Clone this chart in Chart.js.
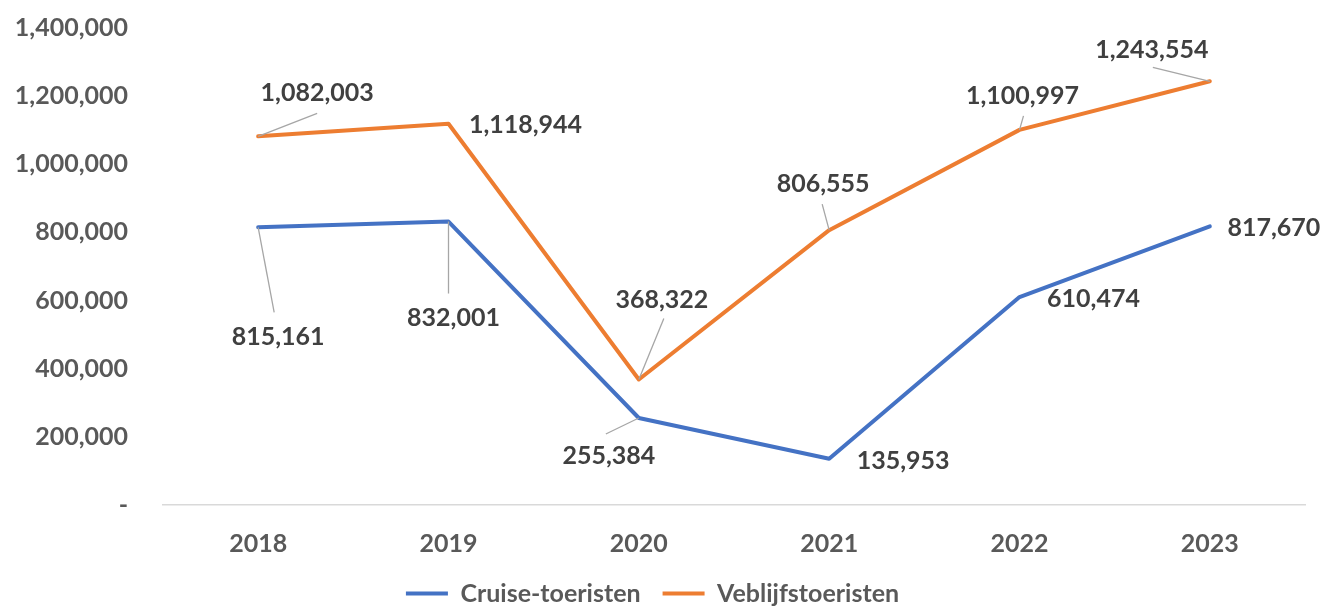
<!DOCTYPE html>
<html>
<head>
<meta charset="utf-8">
<script src="https://cdn.jsdelivr.net/npm/chart.js@4"></script>
<style>
  html, body { margin: 0; padding: 0; background: #ffffff; }
  #wrap { width: 1324px; height: 606px; position: relative; }
</style>
</head>
<body>
<div id="wrap"><canvas id="c"></canvas></div>
<script>
// ---- Data ----
const years = ['2018', '2019', '2020', '2021', '2022', '2023'];
const cruiseToeristen = [815161, 832001, 255384, 135953, 610474, 817670];
const verblijfToeristen = [1082003, 1118944, 368322, 806555, 1100997, 1243554];
const seriesNames = ['Cruise-toeristen', 'Veblijfstoeristen'];
const yTicks = [0, 200000, 400000, 600000, 800000, 1000000, 1200000, 1400000];

// ---- Label placement (pixel offsets relative to each point; style only) ----
const labelLayout = [
  [ // Cruise
    { dx: 20, dy: 110, leader: [16, 85] },
    { dx: 5, dy: 96, leader: [0, 72] },
    { dx: -30, dy: 38, leader: [-33, 16] },
    { dx: 74, dy: 2, leader: null },
    { dx: 74, dy: 2, leader: null },
    { dx: 64, dy: 2, leader: null }
  ],
  [ // Verblijf
    { dx: 59, dy: -43, leader: [59, -23] },
    { dx: 77, dy: 1, leader: null },
    { dx: 23, dy: -80, leader: [25, -61] },
    { dx: -6, dy: -46, leader: [-7, -26] },
    { dx: 3, dy: -34, leader: [4, -14] },
    { dx: -58, dy: -31, leader: [-57, -14] }
  ]
];

const FONT = 'Lato, "Open Sans", sans-serif';
const fmt = v => v.toLocaleString('en-US');

const dataLabelPlugin = {
  id: 'dataLabels',
  afterDatasetsDraw(chart) {
    const ctx = chart.ctx;
    ctx.save();
    chart.data.datasets.forEach((ds, di) => {
      const meta = chart.getDatasetMeta(di);
      meta.data.forEach((pt, i) => {
        const lay = labelLayout[di][i];
        if (lay.leader) {
          ctx.beginPath();
          ctx.strokeStyle = '#A6A6A6';
          ctx.lineWidth = 1.3;
          ctx.moveTo(pt.x, pt.y);
          ctx.lineTo(pt.x + lay.leader[0], pt.y + lay.leader[1]);
          ctx.stroke();
        }
        ctx.font = 'bold 25px ' + FONT;
        ctx.fillStyle = '#404040';
        ctx.textAlign = 'center';
        ctx.textBaseline = 'middle';
        ctx.fillText(fmt(ds.data[i]), pt.x + lay.dx, pt.y + lay.dy);
      });
    });
    ctx.restore();
  }
};

new Chart(document.getElementById('c'), {
  type: 'line',
  data: {
    labels: years,
    datasets: [
      {
        label: seriesNames[0],
        data: cruiseToeristen,
        borderColor: '#4472C4',
        backgroundColor: '#4472C4',
        borderWidth: 4,
        pointRadius: 0,
        tension: 0,
        borderCapStyle: 'round',
        borderJoinStyle: 'round'
      },
      {
        label: seriesNames[1],
        data: verblijfToeristen,
        borderColor: '#ED7D31',
        backgroundColor: '#ED7D31',
        borderWidth: 4,
        pointRadius: 0,
        tension: 0,
        borderCapStyle: 'round',
        borderJoinStyle: 'round'
      }
    ]
  },
  options: {
    responsive: true,
    maintainAspectRatio: false,
    animation: false,
    layout: { padding: { top: 6, right: 19, left: 0, bottom: -10 } },
    plugins: {
      tooltip: { enabled: false },
      legend: {
        position: 'bottom',
        labels: {
          usePointStyle: true,
          pointStyle: 'line',
          pointStyleWidth: 42,
          boxWidth: 42,
          boxHeight: 25,
          padding: 22,
          color: '#595959',
          font: { family: FONT, size: 25, weight: 'bold' }
        }
      }
    },
    scales: {
      x: {
        type: 'category',
        offset: true,
        afterFit(scale) { scale.height = scale.height - 24; },
        grid: { display: false, drawTicks: false },
        border: { display: true, color: '#D9D9D9', width: 1.5 },
        ticks: {
          padding: 24,
          color: '#595959',
          font: { family: FONT, size: 25, weight: 'bold' },
          maxRotation: 0
        }
      },
      y: {
        min: 0,
        max: 1400000,
        afterFit(scale) { scale.width = 163; },
        afterBuildTicks(scale) { scale.ticks = yTicks.map(v => ({ value: v })); },
        grid: { display: false, drawOnChartArea: false, drawTicks: true, tickLength: 22, tickColor: 'rgba(0,0,0,0)' },
        border: { display: false },
        ticks: {
          padding: 13,
          color: '#595959',
          font: { family: FONT, size: 25, weight: 'bold' },
          callback: v => v === 0 ? '-' : fmt(v)
        }
      }
    }
  },
  plugins: [dataLabelPlugin]
});
</script>
</body>
</html>
